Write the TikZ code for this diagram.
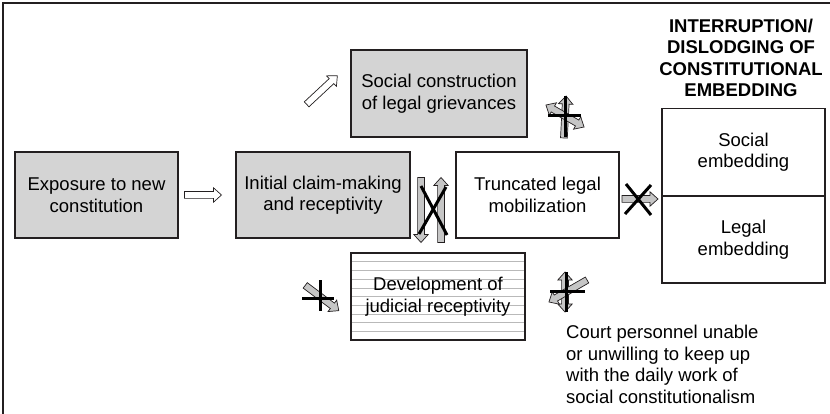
\documentclass[tikz,border=0pt]{standalone}
\usepackage{fontspec}
\setmainfont{Liberation Sans}
\usetikzlibrary{calc}

\definecolor{cd4d4d4}{RGB}{212,212,212}
\definecolor{cc6c6c6}{RGB}{198,198,198}
\definecolor{cb9b9b9}{RGB}{185,185,185}
\definecolor{c231f20}{RGB}{35,31,32}

\tikzset{
  box/.style={draw=c231f20, line width=1.2pt, minimum width=163pt,
    minimum height=86pt, align=center, inner sep=0pt,
    font=\fontsize{18.5}{21.5}\selectfont},
  graybox/.style={box, fill=cd4d4d4},
  blkarr/.style={draw=c231f20, line width=0.7pt, line join=miter},
  bar/.style={draw=black, line width=3pt},
  pics/blkarr/.style 2 args={code={
    \path[blkarr, fill=#2] ({-#1/2},-3.4) -- ({#1/2-8},-3.4) --
      ({#1/2-8},-7.2) -- ({#1/2},0) -- ({#1/2-8},7.2) --
      ({#1/2-8},3.4) -- ({-#1/2},3.4) -- cycle;
  }},
  pics/blkarrd/.style 2 args={code={
    \path[blkarr, fill=#2] ({-#1/2},0) -- ({-#1/2+8},-7.2) --
      ({-#1/2+8},-3.4) -- ({#1/2-8},-3.4) --
      ({#1/2-8},-7.2) -- ({#1/2},0) -- ({#1/2-8},7.2) --
      ({#1/2-8},3.4) -- ({-#1/2+8},3.4) -- ({-#1/2+8},7.2) -- cycle;
  }}
}

\begin{document}
\begin{tikzpicture}[x=1pt, y=-1pt]
\useasboundingbox (0,0) rectangle (830,414);
\draw[line width=1.2pt, c231f20] (3,414) -- (3,3) -- (830,3);

% boxes
\node[graybox] (expo) at (96.5,195) {Exposure to new\\constitution};
\node[graybox, minimum width=174pt] (init) at (323,195)
  {Initial claim-making\\and receptivity};
\node[box] (trunc) at (537.5,195) {Truncated legal\\mobilization};
\node[graybox, minimum width=176pt, minimum height=87pt] (socc) at (439,93.5)
  {Social construction\\of legal grievances};
\node[box, minimum width=174pt, minimum height=87pt, path picture={
    \foreach \i in {1,...,9}
      \draw[cb9b9b9, line width=0.6pt]
        ([yshift=-\i*8.7pt]path picture bounding box.north west) --
        ([yshift=-\i*8.7pt]path picture bounding box.north east);
  }] (devel) at (438,296.5) {Development of\\judicial receptivity};
\node[box, minimum height=86.5pt] (socemb) at (743.5,152) {Social\\embedding};
\node[box, minimum height=86.5pt, anchor=north] (legemb) at (socemb.south)
  {Legal\\embedding};

% heading and note
\node[align=center, font=\fontsize{18.5}{21.5}\selectfont\bfseries]
  (head) at (741,58) {INTERRUPTION/\\DISLODGING OF\\CONSTITUTIONAL\\EMBEDDING};
\node[align=left, anchor=north west, inner sep=0pt,
  font=\fontsize{18.5}{21.5}\selectfont] (court) at (566,325)
  {Court personnel unable\\or unwilling to keep up\\with the daily work of\\social constitutionalism};

% open arrows
\pic at ($(expo.east)!0.5!(init.west)+(-4,0)$) {blkarr={37}{white}};
\pic[rotate=43] at (322,90) {blkarr={42}{white}};

% blocked arrows
\pic[rotate=87] at (565,117) {blkarr={42}{cc6c6c6}};
\pic[rotate=-30] at (565,116) {blkarrd={44}{cc6c6c6}};
\draw[bar] (548,116) -- (581,116);
\draw[bar] (565,96) -- (565,137);

\pic[rotate=-90] at (421,210) {blkarr={65}{cc6c6c6}};
\pic[rotate=90] at (441,210) {blkarr={65}{cc6c6c6}};
\draw[bar] (421,186) -- (447,235);
\draw[bar] (446,187) -- (419,234);

\pic at (640,199) {blkarr={36}{cc6c6c6}};
\draw[bar] (626,184) -- (651,215);
\draw[bar] (651,185) -- (625,214);

\pic[rotate=-37] at (322,298) {blkarr={42}{cc6c6c6}};
\draw[bar] (302,298) -- (334,298);
\draw[bar] (320,280) -- (320,311);

\pic[rotate=-90] at (565,292) {blkarrd={40}{cc6c6c6}};
\pic[rotate=210] at (568,291) {blkarr={44}{cc6c6c6}};
\draw[bar] (550,291) -- (585,291);
\draw[bar] (566,272) -- (566,312);
\end{tikzpicture}
\end{document}
